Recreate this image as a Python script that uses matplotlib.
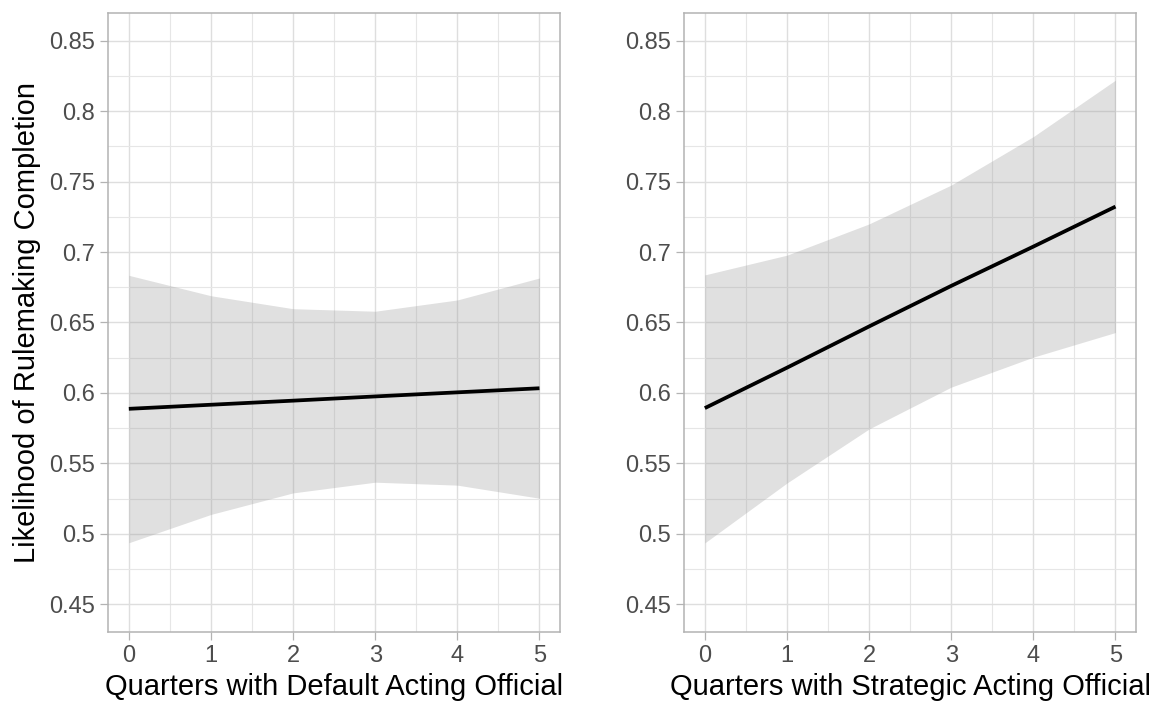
import matplotlib
matplotlib.use("Agg")
import matplotlib.pyplot as plt
import numpy as np

# ---- data ----
quarters = [0, 1, 2, 3, 4, 5]
default_fit = [0.5887, 0.5916, 0.5945, 0.5975, 0.6004, 0.6033]
default_lower = [0.4936, 0.5137, 0.5290, 0.5366, 0.5345, 0.5252]
default_upper = [0.6835, 0.6690, 0.6598, 0.6580, 0.6660, 0.6816]
strategic_fit = [0.5892, 0.6179, 0.6472, 0.6760, 0.7039, 0.7323]
strategic_lower = [0.4935, 0.5360, 0.5744, 0.6041, 0.6254, 0.6429]
strategic_upper = [0.6838, 0.6978, 0.7200, 0.7476, 0.7820, 0.8221]
y_ticks = [0.45, 0.5, 0.55, 0.6, 0.65, 0.7, 0.75, 0.8, 0.85]
y_tick_labels = ["0.45", "0.5", "0.55", "0.6", "0.65", "0.7", "0.75", "0.8", "0.85"]
x_titles = ["Quarters with Default Acting Official",
            "Quarters with Strategic Acting Official"]
y_title = "Likelihood of Rulemaking Completion"

plt.rcParams['font.family'] = ['Liberation Sans', 'DejaVu Sans']

W, H = 1154, 702
fig = plt.figure(figsize=(W / 100, H / 100), dpi=100)

def px_axes(x0, y0, x1, y1):
    return fig.add_axes([x0 / W, 1 - y1 / H, (x1 - x0) / W, (y1 - y0) / H])

axes = [px_axes(108.3, 12.7, 560.0, 632.3), px_axes(684.3, 12.7, 1136.0, 632.3)]
panels = [(default_fit, default_lower, default_upper),
          (strategic_fit, strategic_lower, strategic_upper)]

for i, (ax, (fit, lo, hi)) in enumerate(zip(axes, panels)):
    ax.set_xlim(-0.25, 5.25)
    ax.set_ylim(0.43, 0.87)
    ax.set_xticks(quarters)
    ax.set_xticks([0.5, 1.5, 2.5, 3.5, 4.5], minor=True)
    ax.set_yticks(y_ticks)
    ax.set_yticklabels(y_tick_labels)
    ax.set_yticks([0.475, 0.525, 0.575, 0.625, 0.675, 0.725, 0.775, 0.825], minor=True)
    ax.grid(which='major', color='#DEDEDE', linewidth=1.0, zorder=0)
    ax.grid(which='minor', color='#E6E6E6', linewidth=0.8, zorder=0)
    ax.set_axisbelow(True)
    ax.tick_params(which='minor', length=0)
    ax.tick_params(which='major', length=5.5, width=0.9, color='#B3B3B3',
                   labelcolor='#4D4D4D', labelsize=17, pad=4)
    for s in ax.spines.values():
        s.set_color('#B3B3B3')
        s.set_linewidth(1.1)
    ax.fill_between(quarters, lo, hi, color='#999999', alpha=0.3,
                    linewidth=0, zorder=2)
    ax.plot(quarters, fit, color='black', linewidth=2.7, zorder=3,
            solid_capstyle='butt')
    ax.set_xlabel(x_titles[i], fontsize=21, color='black', labelpad=4)

axes[0].set_ylabel(y_title, fontsize=21, color='black', labelpad=6)

fig.savefig("out.png", dpi=100)
